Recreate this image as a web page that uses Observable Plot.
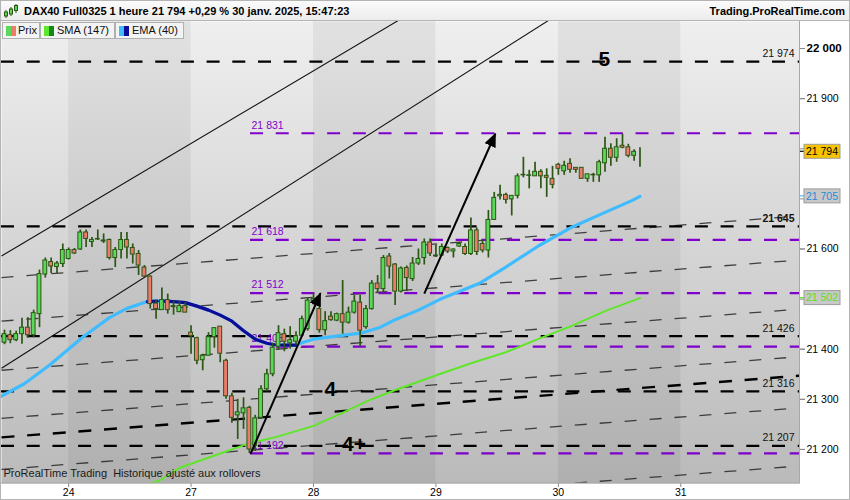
<!DOCTYPE html>
<html><head><meta charset="utf-8">
<script src="https://cdn.jsdelivr.net/npm/d3@7"></script>
<script src="https://cdn.jsdelivr.net/npm/@observablehq/plot@0.6"></script>
<style>
body{margin:0;background:#fff;font-family:"Liberation Sans",Arial,sans-serif;}
#wrap{position:relative;width:850px;height:500px;overflow:hidden;background:#fff;}
#header{position:absolute;left:0;top:0;width:848px;height:19px;border:1px solid #b4b4b4;background:linear-gradient(#fbfbfb,#ececec);}
#title{position:absolute;left:23px;top:0;line-height:20px;font-size:11px;font-weight:bold;color:#000;white-space:nowrap;}
#site{position:absolute;right:4px;top:0;line-height:20px;font-size:11px;font-weight:bold;color:#000;white-space:nowrap;}
#icon{position:absolute;left:3px;top:3px;}
#chart{position:absolute;left:0;top:20px;}
.leg{position:absolute;top:22px;height:15px;border:1px solid #b0b0b0;background:#f3f3f3;font-size:11px;line-height:15px;color:#111;white-space:nowrap;}
.sw{position:absolute;top:3px;width:5px;height:10px;}
#outer{position:absolute;left:0;top:0;width:848px;height:498px;border:1px solid #b4b4b4;pointer-events:none;}
</style>
</head><body>
<div id="wrap">
  <div id="chart"></div>
  <div id="header">
    <svg id="icon" width="14" height="14" viewBox="0 0 14 14">
      <line x1="2" y1="6" x2="2" y2="14" stroke="#2c5614" stroke-width="1"/><rect x="0.5" y="8" width="3" height="4" fill="#5ad85a" stroke="#2c5614" stroke-width="1"/>
      <line x1="7" y1="3" x2="7" y2="12" stroke="#2c5614" stroke-width="1"/><rect x="5.5" y="5" width="3" height="5" fill="#5ad85a" stroke="#2c5614" stroke-width="1"/>
      <line x1="12" y1="0" x2="12" y2="9" stroke="#2c5614" stroke-width="1"/><rect x="10.5" y="1.5" width="3" height="5" fill="#5ad85a" stroke="#2c5614" stroke-width="1"/>
    </svg>
    <div id="title">DAX40 Full0325 1 heure 21 794 +0,29 % 30 janv. 2025, 15:47:23</div>
    <div id="site">Trading.ProRealTime.com</div>
  </div>
  <div class="leg" style="left:2px;width:36px;"><div class="sw" style="left:3px;background:#5ad85a"></div><div class="sw" style="left:8px;background:#ec7b6c"></div><span style="position:absolute;left:15px">Prix</span></div>
  <div class="leg" style="left:40px;width:73px;"><div class="sw" style="left:3px;background:#5fe62b"></div><div class="sw" style="left:8px;background:#138a13"></div><span style="position:absolute;left:16px">SMA (147)</span></div>
  <div class="leg" style="left:115px;width:67px;"><div class="sw" style="left:3px;background:#3fbcff"></div><div class="sw" style="left:8px;background:#0c0c96"></div><span style="position:absolute;left:16px">EMA (40)</span></div>
  <div id="outer"></div>
</div>
<script>
// ---------- data ----------
const candleO = [21413,21428,21418,21430,21443,21428,21470,21549,21574,21564,
 21570,21580,21598,21599,21633,21614,21619,21615,21618,21582,
 21598,21618,21602,21590,21563,21545,21491,21478,21498,21484,
 21474,21486,21433,21422,21378,21387,21424,21445,21377,21306,
 21268,21272,21283,21207,21263,21320,21350,21405,21430,21412,
 21415,21427,21440,21496,21480,21438,21465,21457,21470,21453,
 21473,21493,21444,21480,21531,21520,21585,21569,21515,21562,
 21540,21571,21582,21613,21585,21587,21602,21595,21605,21604,
 21590,21637,21610,21597,21658,21705,21708,21699,21706,21747,
 21746,21745,21754,21746,21740,21768,21755,21770,21762,21762,
 21740,21747,21747,21771,21800,21782,21806,21803,21786,21794];
const candleH = [21438,21437,21436,21462,21463,21478,21558,21582,21582,21575,
 21610,21602,21601,21638,21638,21623,21638,21630,21620,21603,
 21633,21633,21610,21597,21567,21546,21497,21522,21510,21496,
 21496,21493,21447,21424,21390,21433,21443,21445,21380,21312,
 21300,21303,21286,21268,21327,21360,21412,21447,21440,21445,
 21435,21466,21503,21512,21485,21475,21475,21472,21537,21484,
 21507,21507,21487,21537,21547,21587,21591,21571,21564,21566,
 21583,21600,21620,21620,21608,21610,21604,21600,21613,21610,
 21662,21642,21618,21677,21713,21727,21711,21706,21750,21783,
 21757,21773,21758,21760,21765,21771,21775,21780,21762,21762,
 21749,21751,21777,21823,21810,21820,21829,21809,21798,21802];
const candleL = [21409,21411,21415,21410,21422,21423,21443,21542,21551,21551,
 21563,21578,21589,21597,21603,21603,21617,21611,21578,21563,
 21580,21580,21570,21547,21543,21480,21460,21478,21470,21468,
 21473,21473,21390,21369,21357,21387,21402,21373,21300,21252,
 21220,21240,21192,21196,21260,21315,21345,21398,21395,21400,
 21408,21424,21436,21488,21432,21427,21456,21455,21430,21450,
 21470,21405,21440,21478,21511,21511,21540,21487,21512,21515,
 21535,21567,21568,21585,21583,21585,21591,21582,21603,21587,
 21587,21587,21592,21582,21658,21698,21690,21666,21700,21742,
 21720,21745,21720,21703,21720,21747,21747,21751,21751,21740,
 21733,21733,21733,21753,21765,21773,21800,21782,21775,21763];
const candleC = [21430,21418,21430,21443,21428,21472,21550,21577,21565,21571,
 21598,21598,21591,21633,21620,21618,21620,21617,21582,21598,
 21618,21603,21589,21567,21545,21490,21480,21498,21478,21486,
 21486,21473,21426,21377,21387,21424,21442,21391,21306,21263,
 21274,21282,21200,21262,21320,21350,21403,21432,21415,21418,
 21426,21460,21497,21500,21438,21456,21458,21470,21453,21473,
 21495,21437,21480,21531,21520,21582,21565,21515,21561,21542,
 21571,21580,21613,21591,21587,21604,21595,21599,21610,21590,
 21637,21594,21597,21658,21702,21708,21698,21706,21745,21748,
 21747,21754,21745,21742,21728,21760,21766,21758,21758,21740,
 21749,21748,21773,21800,21782,21803,21802,21786,21794,21794];

// EMA (40), bar index / value
const emaG = [-0.6,3.4,7.7,13.4,18,20.9,24.5,26.2,27.1,29,31,33,35,37,39,41,43,45,46.3,47.5,49.9,51,53,57.6,61.1,64.5,67,71,74.6,81.4,86,91.7,97.4,103.2,107.7,109];
const emaV = [21306,21331,21368,21424,21463,21481,21495,21496,21496,21495,21493,21486,21478,21468,21456,21437,21420,21412,21409,21408,21408,21413,21420,21427,21432,21444,21459,21478,21499,21531,21564,21607,21644,21674,21697,21705];
const emaFalling = [[24.5,26.2],[27.1,46.3],[47.5,49.9]];
// SMA (147)
const smaG = [24,26.6,30.2,35.8,41.7,47.3,53,57.6,62.3,66.7,74.8,80.3,86,91.7,97.4,103.2,109];
const smaV = [21128,21138,21164,21187,21211,21227,21247,21271,21297,21317,21351,21373,21394,21421,21447,21477,21502];

// levels
const blackLevels = [21974,21645,21426,21316,21207];
const purpleLevels = [21831,21618,21512,21405,21192];
const purpleStartG = 42.2;
// trend fan (value at left edge, value at right edge)
const fanLeft  = [21543,21456,21358,21262,21160,21045];
const fanRight = [21666,21578,21480,21385,21283,21167];
const thickLeft = 21224, thickRight = 21347;
// channel diagonals [g1,v1,g2,v2]
const diagonals = [[-0.515,21586,70,22073],[-0.515,21362,96,22076]];
// measured-move arrows [g1,v1,g2,v2]
const arrows = [[42.2,21191,54.2,21512],[72.0,21511,84.2,21830]];
// annotations
const annoText = ["5","4","4+"];
const annoG = [102.9,55.9,59.95];
const annoV = [21979,21320,21210];

const dayTicks = [11,32,53,74,95,116];
const dayLabels = ["24","27","28","29","30","31"];
const darkDays = [[11,32],[53,74],[95,116]];
const yTicks = [21200,21300,21400,21500,21600,21700,21800,21900,22000];
const yTickLabels = [21200,21300,21400,21600,21900,22000];
const xDomain = [-0.515,136.36];
const yDomain = [21132,22054];

// ---------- build ----------
const fmt = d => { const s = String(d); return s.slice(0, s.length-3) + " " + s.slice(-3); };
const bars = candleO.map((o,i)=>({i, o, h:candleH[i], l:candleL[i], c:candleC[i]}));
const upBars = bars.filter(d => d.c >= d.o);
const dnBars = bars.filter(d => d.c < d.o);
const ema = emaG.map((g,i)=>({g, v:emaV[i]}));
const emaDark = [];
emaFalling.forEach((r,k)=> ema.forEach(p => { if (p.g >= r[0] && p.g <= r[1]) emaDark.push({g:p.g, v:p.v, seg:k}); }));
const sma = smaG.map((g,i)=>({g, v:smaV[i]}));
const fan = fanLeft.map((l,i)=>({l, r:fanRight[i]}));
const annos = annoText.map((t,i)=>({t, g:annoG[i], v:annoV[i]}));
const lastClose = candleC[candleC.length-1];
const badges = [
  {v:lastClose, fill:"#f6c400", text:"#000", tick:"#000"},
  {v:emaV[emaV.length-1], fill:"#c8c8c8", text:"#1c8cd8", tick:"#3fbcff"},
  {v:smaV[smaV.length-1], fill:"#c8c8c8", text:"#55e020", tick:"#5fe62b"}
];
const xR = xDomain[1];
const dash = "13,12.7";
const font = 10.5;
const ARROW = "#010101";

const marks = [
  Plot.frame({fill:"url(#bgGrad)"}),
  Plot.rect(darkDays, {x1:d=>d[0], x2:d=>d[1], y1:yDomain[0], y2:yDomain[1], fill:"#000", fillOpacity:0.055}),
  Plot.link(diagonals, {x1:d=>d[0], y1:d=>d[1], x2:d=>d[2], y2:d=>d[3], stroke:"#111", strokeWidth:1.1, clip:true}),
  Plot.link(fan, {x1:xDomain[0], y1:"l", x2:xR, y2:"r", stroke:"#262626", strokeWidth:1.3, strokeDasharray:"12,13", strokeOpacity:0.85, clip:true}),
  Plot.link([0], {x1:xDomain[0], y1:thickLeft, x2:xR, y2:thickRight, stroke:"#000", strokeWidth:2.4, strokeDasharray:dash, clip:true}),
  Plot.ruleY(blackLevels, {stroke:"#000", strokeWidth:2.2, strokeDasharray:dash}),
  Plot.ruleY(purpleLevels, {x1:purpleStartG, x2:xR, stroke:"#7f00cc", strokeWidth:2.2, strokeDasharray:dash}),
  Plot.text(blackLevels.filter(d=>d!==21645), {x:xR, y:d=>d, text:fmt, textAnchor:"end", dx:-5, dy:-8, fontSize:font, fill:"#111"}),
  Plot.text(blackLevels.filter(d=>d===21645), {x:xR, y:d=>d, text:fmt, textAnchor:"end", dx:-5, dy:-8, fontSize:font, fontWeight:"bold", fill:"#111"}),
  Plot.text(purpleLevels, {x:purpleStartG, y:d=>d, text:fmt, textAnchor:"start", dx:1, dy:-8, fontSize:font, fill:"#7f00cc"}),
  Plot.line(sma, {x:"g", y:"v", stroke:"#5fe62b", strokeWidth:2, clip:true}),
  Plot.line(ema, {x:"g", y:"v", stroke:"#3fbcff", strokeWidth:3.2, clip:true}),
  Plot.line(emaDark, {x:"g", y:"v", z:"seg", stroke:"#0c0c96", strokeWidth:3.2, clip:true}),
  Plot.ruleX(bars, {x:"i", y1:"l", y2:"h", stroke:"#2c5614", strokeWidth:1.7}),
  Plot.rect(upBars, {x1:d=>d.i-0.33, x2:d=>d.i+0.33, y1:"o", y2:"c", fill:"#5ad85a", stroke:"#2c5614", strokeWidth:1}),
  Plot.rect(dnBars, {x1:d=>d.i-0.33, x2:d=>d.i+0.33, y1:"o", y2:"c", fill:"#ec7b6c", stroke:"#2c5614", strokeWidth:1}),
  Plot.link(arrows, {x1:d=>d[0], y1:d=>d[1], x2:d=>d[2], y2:d=>d[3], stroke:ARROW, strokeWidth:2}),
  Plot.text(annos, {x:"g", y:"v", text:"t", fontSize:21, fontWeight:"bold", fill:"#000", textAnchor:"middle"}),
  Plot.text(["ProRealTime Trading  Historique ajusté aux rollovers"], {frameAnchor:"bottom-left", dx:2, dy:-7, textAnchor:"start", fontSize:11, fill:"#1a1a1a"}),
  Plot.axisY({anchor:"right", ticks:yTicks, tickFormat:()=>"", tickSize:5, tickPadding:2, stroke:"#8a8a8a", fill:"#000", fontSize:font, label:null}),
  Plot.axisY({anchor:"right", ticks:yTickLabels, tickFormat:fmt, tickSize:5, tickPadding:2, stroke:"#8a8a8a", fill:"#000", fontSize:font, label:null}),
  Plot.axisX({anchor:"bottom", ticks:dayTicks, tickFormat:d=>dayLabels[dayTicks.indexOf(d)], tickSize:4, tickPadding:1, stroke:"#8a8a8a", fill:"#000", fontSize:font, label:null})
];
badges.forEach(b => {
  marks.push(Plot.rect([b.v], {x1:xR, x2:xR, y1:d=>d, y2:d=>d, insetLeft:0, insetRight:-5, insetTop:-0.6, insetBottom:-0.6, fill:b.tick}));
  marks.push(Plot.rect([b.v], {x1:xR, x2:xR, y1:d=>d, y2:d=>d, insetLeft:5, insetRight:-41, insetTop:-7, insetBottom:-7, fill:b.fill, stroke:"#9c9c9c", strokeWidth:1}));
  marks.push(Plot.text([b.v], {x:xR, y:d=>d, text:fmt, dx:22.5, textAnchor:"middle", fontSize:font, fill:b.text}));
});

const chart = Plot.plot({
  width:850, height:480, marginLeft:1, marginRight:51, marginTop:1, marginBottom:17,
  x:{domain:xDomain, axis:null},
  y:{domain:yDomain, axis:null},
  style:{fontFamily:"'Liberation Sans', Arial, sans-serif", fontSize:"10.5px", background:"transparent", overflow:"visible", color:"#000"},
  marks
});

const svg = d3.select(chart);
const defs = svg.insert("defs", ":first-child");
const lg = defs.append("linearGradient").attr("id","bgGrad").attr("x1",0).attr("y1",0).attr("x2",0).attr("y2",1);
lg.append("stop").attr("offset","0%").attr("stop-color","#efefef");
lg.append("stop").attr("offset","100%").attr("stop-color","#bababa");
defs.append("marker").attr("id","ahead").attr("viewBox","0 0 14 12").attr("refX",13).attr("refY",6)
  .attr("markerWidth",14).attr("markerHeight",12).attr("markerUnits","userSpaceOnUse").attr("orient","auto")
  .append("path").attr("d","M0,0 L14,6 L0,12 z").attr("fill","#000");
svg.selectAll("path").filter(function(){
  const own = this.getAttribute("stroke");
  const par = this.parentNode && this.parentNode.getAttribute && this.parentNode.getAttribute("stroke");
  return own === ARROW || par === ARROW;
}).attr("marker-end","url(#ahead)");
svg.selectAll("text").filter(function(){ return this.textContent === "22 000"; }).attr("font-weight","bold").attr("font-size", "11.5");
// frame border
svg.append("rect").attr("x",0.5).attr("y",0.5).attr("width",799).attr("height",462.5).attr("fill","none").attr("stroke","#a8a8a8");
document.getElementById("chart").appendChild(chart);
</script>
</body></html>
